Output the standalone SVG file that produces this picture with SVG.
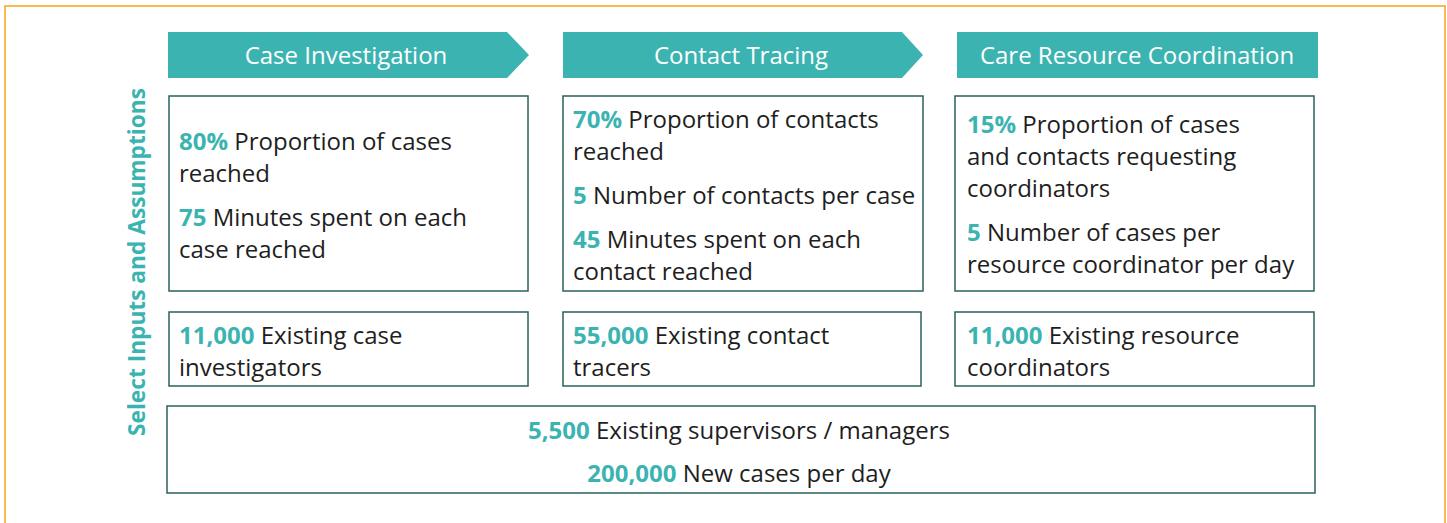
<svg xmlns="http://www.w3.org/2000/svg" width="1447" height="523" viewBox="0 0 1447 523">
  <style>
    .frame { fill: #ffffff; stroke: #f7a21b; stroke-width: 1.5; }
    .head { fill: #3bb4b1; }
    .head-text { font-family: "Open Sans", "Liberation Sans", sans-serif; font-size: 24px; fill: #ffffff; text-anchor: middle; }
    .box { fill: #ffffff; stroke: #2a625c; stroke-width: 1.5; }
    .t { font-family: "Open Sans", "Liberation Sans", sans-serif; font-size: 24px; fill: #1e1e1e; }
    .n { font-weight: 700; fill: #3bb4b1; }
    .side { font-family: "Open Sans", "Liberation Sans", sans-serif; font-size: 22.7px; font-weight: 700; fill: #3bb4b1; text-anchor: middle; }
  </style>

  <rect class="frame" x="5" y="6" width="1440" height="540"/>

  <!-- vertical row label -->
  <text class="side" transform="translate(145 262) rotate(-90)">Select Inputs and Assumptions</text>

  <!-- column headers -->
  <g id="head-case">
    <polygon class="head" points="168,32 507,32 529,55 507,78 168,78"/>
    <text class="head-text" x="346" y="64">Case Investigation</text>
  </g>
  <g id="head-contact">
    <polygon class="head" points="563,32 902,32 923,55 902,78 563,78"/>
    <text class="head-text" x="741" y="64">Contact Tracing</text>
  </g>
  <g id="head-care">
    <rect class="head" x="957" y="32" width="361" height="46"/>
    <text class="head-text" x="1137" y="64">Care Resource Coordination</text>
  </g>

  <!-- assumptions -->
  <g id="case-assumptions">
    <rect class="box" x="169" y="96" width="359" height="195"/>
    <text class="t" x="179" y="150"><tspan class="n">80%</tspan> Proportion of cases</text>
    <text class="t" x="179" y="182">reached</text>
    <text class="t" x="179" y="226"><tspan class="n">75</tspan> Minutes spent on each</text>
    <text class="t" x="179" y="258">case reached</text>
  </g>
  <g id="contact-assumptions">
    <rect class="box" x="563" y="96" width="360" height="195"/>
    <text class="t" x="573" y="128"><tspan class="n">70%</tspan> Proportion of contacts</text>
    <text class="t" x="573" y="160">reached</text>
    <text class="t" x="573" y="204"><tspan class="n">5</tspan> Number of contacts per case</text>
    <text class="t" x="573" y="248"><tspan class="n">45</tspan> Minutes spent on each</text>
    <text class="t" x="573" y="280">contact reached</text>
  </g>
  <g id="care-assumptions">
    <rect class="box" x="955" y="96" width="359" height="195"/>
    <text class="t" x="967" y="133"><tspan class="n">15%</tspan> Proportion of cases</text>
    <text class="t" x="967" y="165">and contacts requesting</text>
    <text class="t" x="967" y="197">coordinators</text>
    <text class="t" x="967" y="241"><tspan class="n">5</tspan> Number of cases per</text>
    <text class="t" x="967" y="273">resource coordinator per day</text>
  </g>

  <!-- staffing -->
  <g id="case-staff">
    <rect class="box" x="169" y="312" width="359" height="74"/>
    <text class="t" x="179" y="344"><tspan class="n">11,000</tspan> Existing case</text>
    <text class="t" x="179" y="376">investigators</text>
  </g>
  <g id="contact-staff">
    <rect class="box" x="563" y="312" width="358" height="74"/>
    <text class="t" x="573" y="344"><tspan class="n">55,000</tspan> Existing contact</text>
    <text class="t" x="573" y="376">tracers</text>
  </g>
  <g id="care-staff">
    <rect class="box" x="955" y="312" width="359" height="74"/>
    <text class="t" x="967" y="344"><tspan class="n">11,000</tspan> Existing resource</text>
    <text class="t" x="967" y="376">coordinators</text>
  </g>

  <!-- shared inputs -->
  <g id="shared">
    <rect class="box" x="167" y="406" width="1148" height="87"/>
    <text class="t" x="739" y="439" text-anchor="middle"><tspan class="n">5,500</tspan> Existing supervisors / managers</text>
    <text class="t" x="739" y="482" text-anchor="middle"><tspan class="n">200,000</tspan> New cases per day</text>
  </g>

  <g id="connectors"/>
</svg>
